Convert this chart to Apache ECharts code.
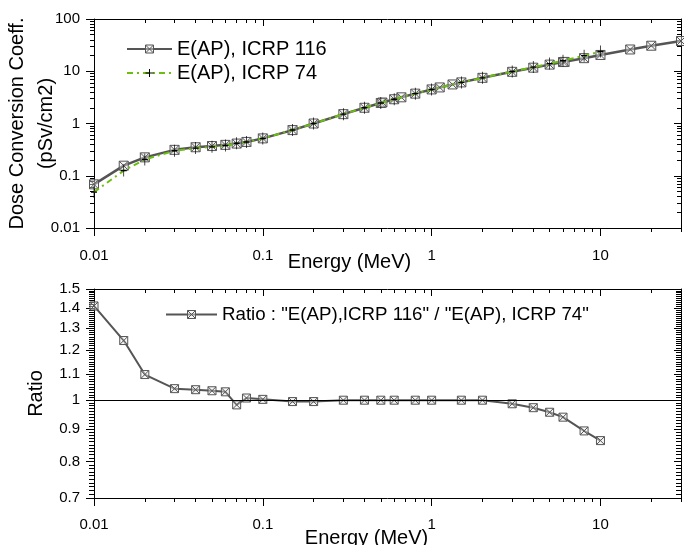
<!DOCTYPE html>
<html><head><meta charset="utf-8">
<script src="https://cdn.jsdelivr.net/npm/echarts@6/dist/echarts.min.js"></script>
<style>html,body{margin:0;padding:0;background:#fff}#c{width:684px;height:545px}</style>
</head><body><div id="c"></div>
<script>
// ---- data ----
const energy116 = [0.01,0.015,0.02,0.03,0.04,0.05,0.06,0.07,0.08,0.1,0.15,0.2,0.3,0.4,0.5,0.511,0.6,0.662,0.8,1,1.117,1.33,1.5,2,3,4,5,6,6.129,8,10,15,20,30];
const dose116   = [0.0685,0.156,0.225,0.313,0.351,0.370,0.390,0.413,0.444,0.519,0.748,1.00,1.51,2.00,2.47,2.52,2.91,3.17,3.73,4.49,4.90,5.59,6.12,7.48,9.75,11.7,13.4,15.0,15.1,17.8,20.5,26.1,30.8,37.9];
const energy74  = [0.01,0.015,0.02,0.03,0.04,0.05,0.06,0.07,0.08,0.1,0.15,0.2,0.3,0.4,0.5,0.6,0.8,1,1.5,2,3,4,5,6,8,10];
const dose74    = [0.0486,0.1255,0.205,0.300,0.338,0.357,0.378,0.420,0.441,0.517,0.752,1.00,1.51,2.00,2.47,2.91,3.73,4.49,6.12,7.48,9.87,12.0,14.0,15.9,19.9,23.8];
const ratioEnergy = [0.01,0.015,0.02,0.03,0.04,0.05,0.06,0.07,0.08,0.1,0.15,0.2,0.3,0.4,0.5,0.6,0.8,1,1.5,2,3,4,5,6,8,10];
const ratioValues = [1.41,1.243,1.098,1.043,1.039,1.035,1.031,0.983,1.008,1.003,0.995,0.995,1.0,1.0,1.0,1.0,1.0,1.0,1.0,1.0,0.987,0.973,0.957,0.94,0.894,0.863];

// ---- tick labels / tick positions ----
const energyTicks = [0.01,0.1,1,10];
const energyMinorTicks = [0.02,0.03,0.04,0.05,0.06,0.07,0.08,0.09,0.2,0.3,0.4,0.5,0.6,0.7,0.8,0.9,2,3,4,5,6,7,8,9,20,30];
const doseTicks = [0.01,0.1,1,10,100];
const doseMinorTicks = [0.02,0.03,0.04,0.05,0.06,0.07,0.08,0.09,0.2,0.3,0.4,0.5,0.6,0.7,0.8,0.9,2,3,4,5,6,7,8,9,20,30,40,50,60,70,80,90];
const ratioTicks = [0.7,0.8,0.9,1,1.1,1.2,1.3,1.4,1.5];
const ratioMinorTicks = [];
for (let k = 71; k < 150; k++) ratioMinorTicks.push(k / 100);

const seriesNames = ['E(AP), ICRP 116', 'E(AP), ICRP 74', 'Ratio : "E(AP),ICRP 116" / "E(AP), ICRP 74"'];

// ---- styling ----
const FONT = 'Liberation Sans, Arial, sans-serif';
const squareX = 'path://M0,0H10V10H0Z M0,0L10,10 M10,0L0,10';
const plusMark = 'path://M3,0V12 M1,6H5';
const fmt = v => String(+(+v).toPrecision(6));
const black = { color: '#000', width: 1 };

function xAxes(grid, min, max, labelMargin, name, nameGap, namePad) {
  const base = { type: 'log', logBase: 10, gridIndex: grid, min, max, splitLine: { show: false }, minorTick: { show: false } };
  return [
    Object.assign({}, base, { position: 'bottom', axisLine: { show: true, onZero: false, lineStyle: black },
      axisTick: { show: true, inside: false, length: 8, customValues: energyTicks, lineStyle: black },
      axisLabel: { show: true, customValues: energyTicks, margin: labelMargin, fontSize: 15, fontFamily: FONT, color: '#000', formatter: fmt },
      name, nameLocation: 'middle', nameGap, nameMoveOverlap: false,
      nameTextStyle: { fontSize: 20, fontFamily: FONT, color: '#000', padding: namePad } }),
    Object.assign({}, base, { position: 'bottom', axisLine: { show: false, onZero: false },
      axisTick: { show: true, inside: false, length: 4, customValues: energyMinorTicks, lineStyle: black },
      axisLabel: { show: false } }),
    Object.assign({}, base, { position: 'top', axisLine: { show: true, onZero: false, lineStyle: black },
      axisTick: { show: true, inside: true, length: 7, customValues: energyTicks, lineStyle: black },
      axisLabel: { show: false } }),
    Object.assign({}, base, { position: 'top', axisLine: { show: false, onZero: false },
      axisTick: { show: true, inside: true, length: 4, customValues: energyMinorTicks, lineStyle: black },
      axisLabel: { show: false } })
  ];
}
function yAxes(grid, min, max, major, minor, minorLen, name, nameGap, lineH) {
  const base = { type: 'log', logBase: 10, gridIndex: grid, min, max, splitLine: { show: false }, minorTick: { show: false } };
  return [
    Object.assign({}, base, { position: 'left', axisLine: { show: true, onZero: false, lineStyle: black },
      axisTick: { show: true, inside: false, length: 8, customValues: major, lineStyle: black },
      axisLabel: { show: true, customValues: major, margin: 14, fontSize: 15, fontFamily: FONT, color: '#000', formatter: fmt },
      name, nameLocation: 'middle', nameGap, nameRotate: 90, nameMoveOverlap: false,
      nameTextStyle: { fontSize: 20, fontFamily: FONT, color: '#000', lineHeight: lineH } }),
    Object.assign({}, base, { position: 'left', axisLine: { show: false, onZero: false },
      axisTick: { show: true, inside: false, length: minorLen, customValues: minor, lineStyle: black },
      axisLabel: { show: false } }),
    Object.assign({}, base, { position: 'right', axisLine: { show: true, onZero: false, lineStyle: black },
      axisTick: { show: true, inside: true, length: 7, customValues: major, lineStyle: black },
      axisLabel: { show: false } }),
    Object.assign({}, base, { position: 'right', axisLine: { show: false, onZero: false },
      axisTick: { show: true, inside: true, length: minorLen, customValues: minor, lineStyle: black },
      axisLabel: { show: false } })
  ];
}

const markerStyle = { color: 'rgba(235,235,235,0.45)', borderColor: '#555', borderWidth: 1 };

const chart = echarts.init(document.getElementById('c'), null, { renderer: 'canvas' });
chart.setOption({
  animation: false,
  backgroundColor: '#fff',
  grid: [
    { left: 94, top: 19, width: 587, height: 209, containLabel: false, outerBoundsMode: 'none' },
    { left: 94, top: 289, width: 587, height: 209, containLabel: false, outerBoundsMode: 'none' }
  ],
  xAxis: [].concat(
    xAxes(0, 0.01, 30, 20, 'Energy (MeV)', 24, [0, 76, 0, 0]),
    xAxes(1, 0.01, 30, 19, 'Energy (MeV)', 30, [0, 42, 0, 0])
  ),
  yAxis: [].concat(
    yAxes(0, 0.01, 100, doseTicks, doseMinorTicks, 4, 'Dose Conversion Coeff.\n(pSv/cm2)', 33, 29),
    yAxes(1, 0.7, 1.5, ratioTicks, ratioMinorTicks, 5, 'Ratio', 46, 23)
  ),
  legend: [
    { data: [seriesNames[0], seriesNames[1]], orient: 'vertical', left: 126, top: 39, padding: 0, itemWidth: 45, itemHeight: 10, itemGap: 4,
      itemStyle: { borderWidth: 1 },
      textStyle: { fontSize: 20, fontFamily: FONT, color: '#000' }, selectedMode: false },
    { data: [seriesNames[2]], orient: 'vertical', left: 165, top: 305, padding: 0, itemWidth: 51, itemHeight: 10,
      itemStyle: { borderWidth: 1 },
      textStyle: { fontSize: 18.7, fontFamily: FONT, color: '#000' }, selectedMode: false }
  ],
  series: [
    { name: seriesNames[0], type: 'line', xAxisIndex: 0, yAxisIndex: 0, z: 2,
      data: energy116.map((e, i) => [e, dose116[i]]),
      symbol: squareX, symbolSize: 9,
      lineStyle: { color: '#555', width: 2.5 },
      itemStyle: markerStyle },
    { name: seriesNames[1], type: 'line', xAxisIndex: 0, yAxisIndex: 0, z: 3,
      data: energy74.map((e, i) => [e, dose74[i]]),
      symbol: plusMark, symbolSize: [6, 12],
      lineStyle: { color: '#6cbf0c', width: 2, type: [6, 4, 2, 4] },
      itemStyle: { color: 'rgba(0,0,0,0)', borderColor: '#000', borderWidth: 1 } },
    { name: seriesNames[2], type: 'line', xAxisIndex: 4, yAxisIndex: 4, z: 3,
      data: ratioEnergy.map((e, i) => [e, ratioValues[i]]),
      symbol: squareX, symbolSize: 8,
      lineStyle: { color: '#555', width: 2 },
      itemStyle: markerStyle,
      markLine: { silent: true, symbol: 'none', label: { show: false },
        lineStyle: { color: '#000', width: 1, type: 'solid' }, data: [{ yAxis: 1 }] } }
  ]
});
</script>
</body></html>
